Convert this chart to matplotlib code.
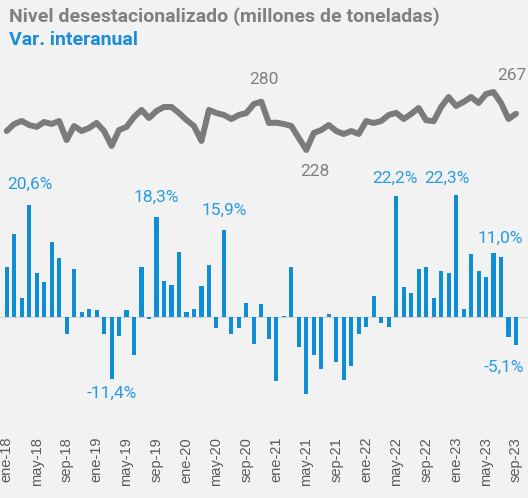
import matplotlib
matplotlib.use("Agg")
import matplotlib.pyplot as plt
import numpy as np

# datos mensuales ene-18 .. sep-23
var_interanual = [9.2, 15.3, 3.5, 20.6, 8.0, 6.4, 13.8, 10.8, -3.2, 8.8, 0.9, 1.5,
                  1.2, -3.2, -11.4, -3.5, 1.3, -6.9, 9.2, -0.4, 18.3, 6.7, 5.8, 11.9,
                  0.9, 1.5, 5.7, 9.6, -2.0, 15.9, -3.1, -2.1, 2.6, -4.9, 2.3, -4.0,
                  -11.7, 0.2, 9.2, -5.5, -14.1, -6.9, -9.5, 0.5, -8.3, -11.6, -8.9, -3.2,
                  -1.8, 3.8, -1.1, -1.8, 22.2, 5.5, 4.4, 8.9, 9.2, 3.5, 8.4, 8.1,
                  22.3, 1.5, 11.6, 8.4, 7.3, 11.7, 11.0, -3.7, -5.1]

nivel = [248.4, 256.0, 259.2, 254.9, 252.8, 258.1, 256.0, 259.2, 238.7, 253.8, 248.4, 251.7,
         257.1, 248.4, 232.3, 249.5, 252.8, 263.5, 271.1, 262.4, 270.0, 274.3, 274.3, 267.8,
         260.3, 253.8, 237.7, 271.1, 267.8, 265.7, 261.3, 265.7, 267.8, 277.5, 280.0, 257.1,
         257.4, 256.0, 253.8, 240.9, 228.0, 246.3, 249.5, 254.9, 248.4, 245.2, 248.4, 245.2,
         259.2, 257.0, 259.2, 265.7, 268.0, 261.4, 266.8, 273.2, 260.0, 259.0, 274.3, 285.0,
         275.4, 279.7, 285.0, 278.6, 288.3, 290.4, 278.6, 261.4, 267.0]

tick_labels = ["ene-18", "may-18", "sep-18", "ene-19", "may-19", "sep-19",
               "ene-20", "may-20", "sep-20", "ene-21", "may-21", "sep-21",
               "ene-22", "may-22", "sep-22", "ene-23", "may-23", "sep-23"]

# etiquetas de barras: (indice, texto, dx px, dy px)
bar_labels = [(3, "20,6%", 1, 20), (14, "-11,4%", 0, -14), (20, "18,3%", 0, 20),
              (29, "15,9%", 0, 20), (52, "22,2%", -1, 18), (60, "22,3%", -9, 17),
              (66, "11,0%", -1, 19), (68, "-5,1%", -12, -23)]
line_labels = [(34, "280", 3, 22), (40, "228", 9, -22), (68, "267", -4, 38)]

BG = "#f2f2f2"
BLUE = "#0f8ed6"
BLUE_TXT = "#2a9be0"
GRAY = "#7b7b7b"

x = np.arange(len(var_interanual))

fig = plt.figure(figsize=(5.28, 4.98), dpi=100, facecolor=BG)
ax = fig.add_axes([0, 68 / 498, 1, 370 / 498])
ax.set_facecolor(BG)

ax.axhline(0, color="#d6d6d6", lw=1, zorder=1)
ax.bar(x, var_interanual, width=0.55, color=BLUE, zorder=2)

ax.set_xlim(-0.895, 69.6)
ax.set_ylim(-20.73, 47.16)
ax.set_yticks([])
ax.set_xticks(x[::4])
ax.set_xticklabels(tick_labels, rotation=90, fontsize=10.5, color="#595959",
                   family="Liberation Sans")
ax.tick_params(axis="x", length=0, pad=5)
for s in ax.spines.values():
    s.set_visible(False)

for i, t, dx, dy in bar_labels:
    ax.annotate(t, (x[i], var_interanual[i]), xytext=(dx, dy), textcoords="offset pixels",
                ha="center", va="center", fontsize=12.5, color=BLUE_TXT, family="Roboto")

ax2 = ax.twinx()
ax2.set_ylim(-73.6, 324.9)
ax2.plot(x, nivel, color=GRAY, lw=4.3, solid_joinstyle="round", solid_capstyle="round",
         zorder=3)
ax2.set_yticks([])
for s in ax2.spines.values():
    s.set_visible(False)

for i, t, dx, dy in line_labels:
    ax2.annotate(t, (x[i], nivel[i]), xytext=(dx, dy), textcoords="offset pixels",
                 ha="center", va="center", fontsize=12.5, color="#808080", family="Roboto")

fig.text(9 / 528, 1 - 17 / 498, "Nivel desestacionalizado (millones de toneladas)",
         fontsize=14, fontweight="bold", color="#808080", family="Roboto",
         ha="left", va="center")
fig.text(9 / 528, 1 - 40 / 498, "Var. interanual", fontsize=14, fontweight="bold",
         color="#1a8cd8", family="Roboto", ha="left", va="center")

fig.savefig("out.png", dpi=100, facecolor=BG)
